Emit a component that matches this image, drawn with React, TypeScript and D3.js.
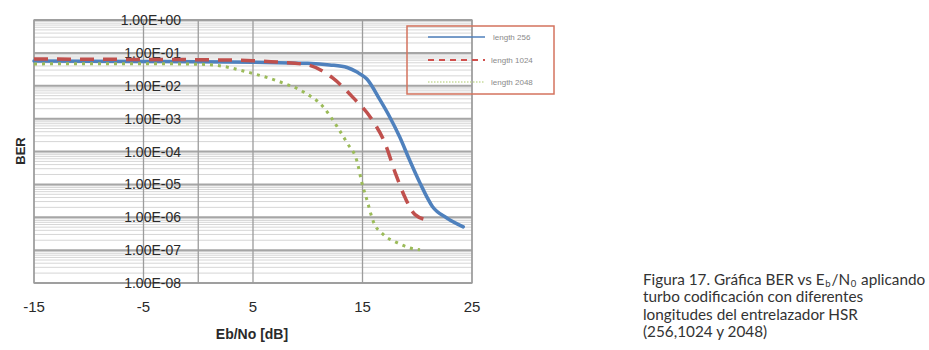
import React, { useLayoutEffect, useRef, useState } from "react";
import * as d3 from "d3";

// ---- data ----
const xTicks = [-15, -5, 5, 15, 25];
const yTickValues = [1, 1e-1, 1e-2, 1e-3, 1e-4, 1e-5, 1e-6, 1e-7, 1e-8];
const yTickLabels = ["1.00E+00", "1.00E-01", "1.00E-02", "1.00E-03", "1.00E-04", "1.00E-05", "1.00E-06", "1.00E-07", "1.00E-08"];
const verticalGrid = [-15, -5, 0, 5, 15, 25];

const seriesNames = ["length 256", "length 1024", "length 2048"];

const x256 = [-15, -10, -5, 0, 5, 10, 12, 13.6, 14.5, 15.4, 16.6, 17.5, 18.4, 19.3, 20.25, 21.4, 22.7, 24.2];
const ber256 = [0.057, 0.056, 0.055, 0.054, 0.052, 0.048, 0.043, 0.036, 0.026, 0.016, 0.0037, 0.0011, 2.75e-4, 5.5e-5, 1.1e-5, 2.1e-6, 9.5e-7, 5.1e-7];

const x1024 = [-15, -10, -5, 0, 5, 7.5, 10, 12.3, 14.1, 15.9, 17.05, 18, 18.9, 19.8, 20.9];
const ber1024 = [0.065, 0.064, 0.063, 0.062, 0.058, 0.052, 0.043, 0.017, 0.0045, 9e-4, 1.8e-4, 2.2e-5, 3.9e-6, 1.2e-6, 8.3e-7];

const x2048 = [-15, -10, -5, 0, 1.35, 4.7, 7.5, 9.6, 11.4, 12.7, 13.6, 14.5, 14.95, 15.4, 16, 16.9, 18.2, 19.3, 20.25];
const ber2048 = [0.046, 0.047, 0.047, 0.045, 0.043, 0.025, 0.013, 0.0065, 0.0023, 5.6e-4, 1.8e-4, 5e-5, 1.1e-5, 3.4e-6, 7.2e-7, 3e-7, 1.66e-7, 1.17e-7, 1.02e-7];

// first caption line split into normal / subscript segments
const captionFirstParts = ["Figura 17. Gráfica BER vs E", "b", "/N", "0", " aplicando"];
const captionLines = [
  "turbo codificación con diferentes",
  "longitudes del entrelazador HSR",
  "(256,1024 y 2048)",
];

export default function App() {
  const W = 929, H = 350;
  const x = d3.scaleLinear().domain([-15, 25]).range([34, 472]);
  const y = d3.scaleLog().domain([1, 1e-8]).range([20, 283]);

  const minor: number[] = [];
  for (let e = -8; e <= -1; e++) {
    for (let m = 2; m <= 9; m++) minor.push(m * Math.pow(10, e));
  }

  const line = d3
    .line<[number, number]>()
    .x((d) => x(d[0]))
    .y((d) => y(d[1]))
    .curve(d3.curveMonotoneX);

  const mk = (xs: number[], ys: number[]) => xs.map((v, i) => [v, ys[i]] as [number, number]);

  const series = [
    { name: seriesNames[0], d: line(mk(x256, ber256)), color: "#4f81bd", dash: "none", w: 3.5, cap: "round", lw: 1.5, ldash: "none", lcolor: "#4f81bd" },
    { name: seriesNames[1], d: line(mk(x1024, ber1024)), color: "#c0504d", dash: "14 9", w: 3.5, cap: "butt", lw: 1.8, ldash: "6 5", lcolor: "#d0504d" },
    { name: seriesNames[2], d: line(mk(x2048, ber2048)), color: "#9bbb59", dash: "3 5", w: 3, cap: "butt", lw: 1.5, ldash: "1.5 1.5", lcolor: "#c8dc9c" },
  ];

  const font = "'Liberation Sans', Arial, sans-serif";
  const capFont = "Lato, 'Open Sans', sans-serif";
  const capSize = 15.3;
  const legendY = [37, 60, 82];
  const legendTextX = [493, 491, 491];

  const partRefs = useRef<(SVGTextElement | null)[]>([]);
  const [partX, setPartX] = useState<number[]>(captionFirstParts.map((_, i) => 643 + i * 40));
  useLayoutEffect(() => {
    let cx = 643;
    const xs: number[] = [];
    captionFirstParts.forEach((_, i) => {
      xs.push(cx);
      const el = partRefs.current[i];
      const w = el ? el.getComputedTextLength() : 0;
      cx += w + 0.8;
    });
    setPartX(xs);
  }, []);

  return (
    <svg width={W} height={H} style={{ position: "absolute", left: 0, top: 0, background: "#fff" }}>
      {/* minor grid */}
      {minor.map((v, i) => (
        <line key={"m" + i} x1={34} x2={472} y1={y(v)} y2={y(v)} stroke="#d6d6d6" strokeWidth={1} />
      ))}
      {/* major grid */}
      {yTickValues.map((v, i) => (
        <line key={"M" + i} x1={34} x2={472} y1={y(v)} y2={y(v)} stroke="#a6a6a6" strokeWidth={2} />
      ))}
      {/* vertical grid */}
      {verticalGrid.map((v, i) => (
        <line key={"v" + i} x1={x(v)} x2={x(v)} y1={20} y2={283} stroke="#9c9c9c" strokeWidth={1.3} />
      ))}
      <rect x={34} y={20} width={438} height={263} fill="none" stroke="#9c9c9c" strokeWidth={1.3} />

      {/* y tick labels */}
      {yTickValues.map((v, i) => (
        <text key={"yt" + i} x={181} y={y(v)} dy="0.36em" textAnchor="end" fontFamily={font} fontSize={14} fill="#2a2a2a">
          {yTickLabels[i]}
        </text>
      ))}

      {/* x tick labels */}
      {xTicks.map((v, i) => (
        <text key={"xt" + i} x={x(v)} y={312} textAnchor="middle" fontFamily={font} fontSize={15} fill="#2a2a2a">
          {v}
        </text>
      ))}

      {/* axis titles */}
      <text x={252} y={339} textAnchor="middle" fontFamily={font} fontSize={14} fontWeight="bold" fill="#2a2a2a">
        Eb/No [dB]
      </text>
      <text transform="translate(25,151) rotate(-90)" textAnchor="middle" fontFamily={font} fontSize={13} fontWeight="bold" fill="#2a2a2a">
        BER
      </text>

      {/* series */}
      {series.map((s, i) => (
        <path key={"s" + i} d={s.d || ""} fill="none" stroke={s.color} strokeWidth={s.w} strokeDasharray={s.dash} strokeLinecap={s.cap as any} strokeLinejoin="round" />
      ))}

      {/* legend */}
      <rect x={407} y={26} width={147} height={68} fill="none" stroke="#d4735e" strokeWidth={1.5} />
      {series.map((s, i) => (
        <g key={"l" + i}>
          <line x1={428} x2={485} y1={legendY[i]} y2={legendY[i]} stroke={s.lcolor} strokeWidth={s.lw} strokeDasharray={s.ldash} />
          <text x={legendTextX[i]} y={legendY[i]} dy="0.35em" fontFamily={font} fontSize={8} fill="#8a8a8a">
            {s.name}
          </text>
        </g>
      ))}

      {/* caption */}
      {captionFirstParts.map((p, i) => (
        <text
          key={"cf" + i}
          ref={(el) => { partRefs.current[i] = el; }}
          x={partX[i]}
          y={i % 2 === 1 ? 286.8 : 285}
          fontFamily={capFont}
          fontSize={i % 2 === 1 ? 9.5 : capSize}
          fill="#333"
          style={{ whiteSpace: "pre" }}
        >
          {p}
        </text>
      ))}
      {captionLines.map((l, i) => (
        <text key={"c" + i} x={643} y={285 + (i + 1) * 17.4} fontFamily={capFont} fontSize={capSize} fill="#333">
          {l}
        </text>
      ))}
    </svg>
  );
}
